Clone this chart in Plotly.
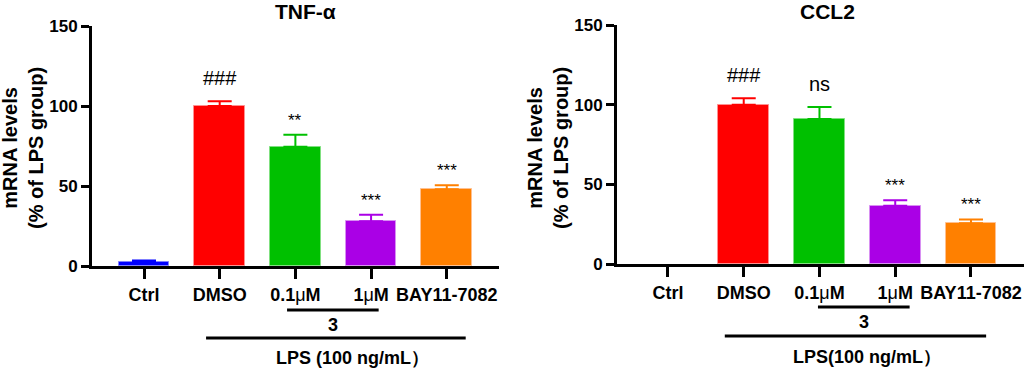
import plotly.graph_objects as go

# ---------------- data ----------------
categories = ["Ctrl", "DMSO", "0.1μM", "1μM", "BAY11-7082"]
tick_labels = ["<b>Ctrl</b>", "<b>DMSO</b>", "<b>0.1</b>μ<b>M</b>", "<b>1</b>μ<b>M</b>", "<b>BAY11-7082</b>"]
bar_colors = ["#0000FF", "#FF0000", "#00C000", "#AA00E6", "#FF8000"]
edge_colors = ["#8080FF", "#FF9090", "#80E080", "#D890F2", "#FFC090"]

tnf_mean = [2.5, 100, 74.5, 28, 48]
tnf_err = [1, 3, 7.5, 4, 2.5]
tnf_sig = ["", "###", "**", "***", "***"]

ccl2_mean = [0, 100, 91, 36.5, 25.5]
ccl2_err = [0, 4, 7.5, 3.5, 2.5]
ccl2_sig = ["", "###", "ns", "***", "***"]

y_ticks = [0, 50, 100, 150]
titles = ["TNF-α", "CCL2"]
lps_labels = ["LPS (100 ng/mL）", "LPS(100 ng/mL）"]

W, H = 1024, 369
FONT = "Liberation Sans, Arial, sans-serif"

fig = go.Figure()

panels = [
    dict(mean=tnf_mean, err=tnf_err, sig=tnf_sig, xa="x", ya="y",
         xdom=[92 / W, 499 / W], ydom=[1 - 266 / H, 1 - 26 / H], xr=[-0.687, 4.69],
         title=titles[0], title_x=305, lps=lps_labels[0],
         line3=(1.89, 3.10, 310), lline=(0.82, 4.25, 338), three_y=325, lps_x=2.75, lps_y=358,
         ytitle_x=23),
    dict(mean=ccl2_mean, err=ccl2_err, sig=ccl2_sig, xa="x2", ya="y2",
         xdom=[617 / W, 1.0], ydom=[1 - 264 / H, 1 - 25 / H], xr=[-0.673, 4.70],
         title=titles[1], title_x=827, lps=lps_labels[1],
         line3=(1.98, 3.19, 307), lline=(0.75, 4.20, 336), three_y=322, lps_x=2.63, lps_y=357,
         ytitle_x=548),
]

shapes = []
annotations = []


def ann(**kw):
    kw.setdefault("showarrow", False)
    kw.setdefault("xanchor", "center")
    kw.setdefault("yanchor", "middle")
    annotations.append(kw)


for i, p in enumerate(panels):
    for j, c in enumerate(categories):
        has_bar = p["mean"][j] > 0
        fig.add_trace(go.Bar(
            x=[c], y=[p["mean"][j]], xaxis=p["xa"], yaxis=p["ya"],
            marker=dict(color=bar_colors[j],
                        line=dict(color=edge_colors[j], width=1 if has_bar else 0)),
            width=0.67,
            error_y=dict(type="data", array=[p["err"][j]], arrayminus=[0], symmetric=False,
                         color=bar_colors[j], thickness=2, width=12, visible=has_bar),
            showlegend=False, hoverinfo="skip",
        ))
        s = p["sig"][j]
        if s:
            top = p["mean"][j] + p["err"][j]
            is_star = s.startswith("*")
            ann(x=c, y=top, xref=p["xa"], yref=p["ya"], text=s,
                yanchor="bottom", yshift=3 if is_star else 10,
                font=dict(family=FONT, size=17 if is_star else 20, color="black"))
    # titles
    ann(x=p["title_x"] / W, y=1 - 11 / H, xref="paper", yref="paper",
        text="<b>%s</b>" % p["title"], font=dict(family=FONT, size=21, color="black"))
    # y axis title
    ann(x=p["ytitle_x"] / W, y=1 - 148 / H, xref="paper", yref="paper",
        text="<b>mRNA levels<br>(% of LPS group)</b>", textangle=-90,
        font=dict(family=FONT, size=20, color="black"))
    # group brackets
    x0, x1, yy = p["line3"]
    shapes.append(dict(type="line", xref=p["xa"], yref="paper", x0=x0, x1=x1,
                       y0=1 - yy / H, y1=1 - yy / H, line=dict(color="black", width=3)))
    x0, x1, yy = p["lline"]
    shapes.append(dict(type="line", xref=p["xa"], yref="paper", x0=x0, x1=x1,
                       y0=1 - yy / H, y1=1 - yy / H, line=dict(color="black", width=3)))
    ann(x=(p["line3"][0] + p["line3"][1]) / 2, y=1 - p["three_y"] / H,
        xref=p["xa"], yref="paper", text="<b>3</b>",
        font=dict(family=FONT, size=18, color="black"))
    ann(x=p["lps_x"], y=1 - p["lps_y"] / H, xref=p["xa"], yref="paper",
        text="<b>%s</b>" % p["lps"], font=dict(family=FONT, size=18, color="black"))

axis_common = dict(showline=True, linecolor="black", linewidth=3, ticks="outside",
                   tickcolor="black", tickwidth=3, showgrid=False, zeroline=False,
                   tickfont=dict(family=FONT, size=17, color="black"))

layout = dict(
    width=W, height=H, margin=dict(l=0, r=0, t=0, b=0, autoexpand=False),
    plot_bgcolor="white", paper_bgcolor="white", bargap=0,
    shapes=shapes, annotations=annotations, showlegend=False,
)
for i, p in enumerate(panels):
    sx = "" if i == 0 else "2"
    layout["xaxis" + sx] = dict(axis_common, domain=p["xdom"], range=p["xr"], anchor=p["ya"],
                                tickmode="array", tickvals=categories, ticktext=tick_labels,
                                ticklen=10, type="category",
                                tickfont=dict(family=FONT, size=18, color="black"))
    layout["yaxis" + sx] = dict(axis_common, domain=p["ydom"], range=[0, 150], anchor=p["xa"],
                                tickvals=y_ticks, ticktext=["<b>%d</b>" % v for v in y_ticks],
                                ticklen=8)
fig.update_layout(**layout)
fig.write_html("out.html", config={"displayModeBar": False},
               post_script="document.body.style.margin='0';document.body.style.overflow='hidden';")
